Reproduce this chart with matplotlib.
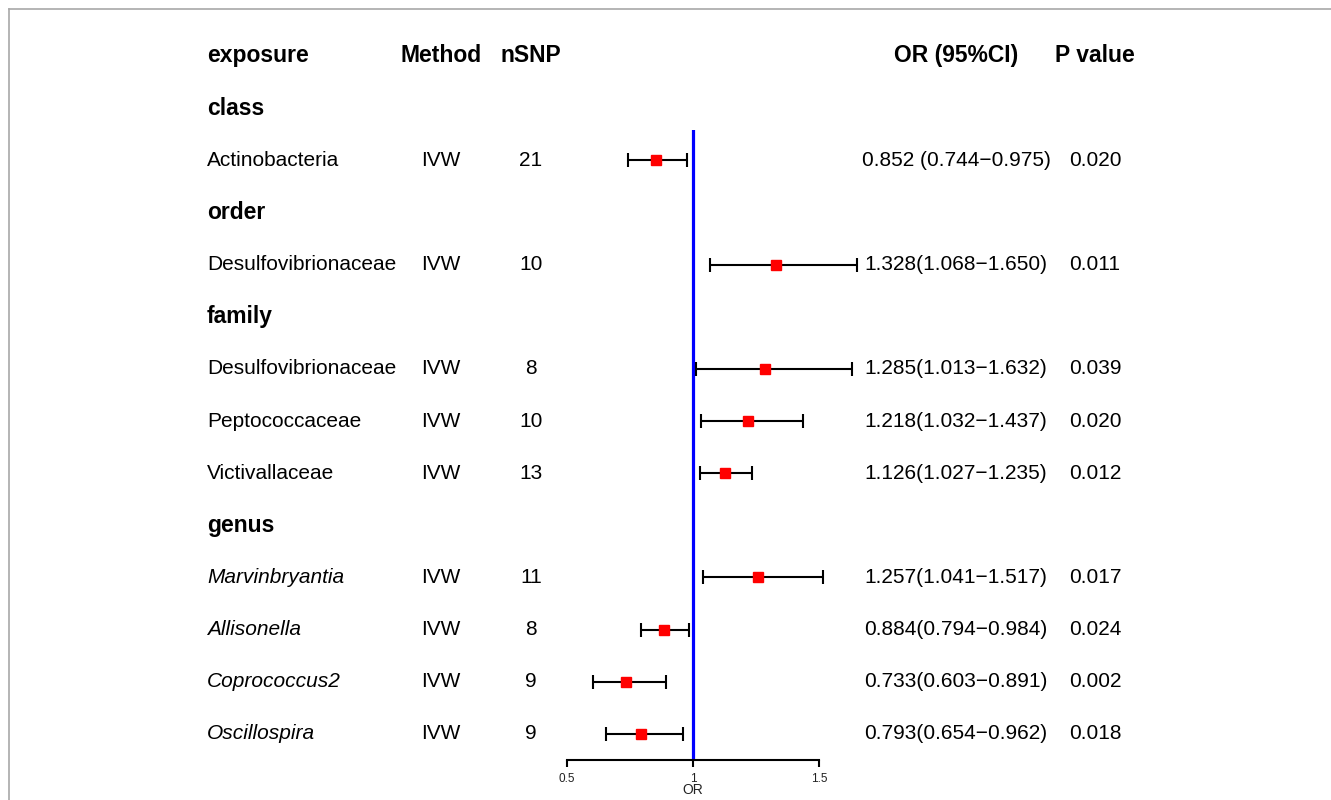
import matplotlib.pyplot as plt
import matplotlib.transforms as mtransforms
from matplotlib.lines import Line2D

plt.rcParams['font.family'] = ['Liberation Sans', 'DejaVu Sans']

groups = ['class', 'order', 'family', 'genus']
exposure = [
    ['Actinobacteria'],
    ['Desulfovibrionaceae'],
    ['Desulfovibrionaceae', 'Peptococcaceae', 'Victivallaceae'],
    ['Marvinbryantia', 'Allisonella', 'Coprococcus2', 'Oscillospira'],
]
italic_groups = ['genus']
method = 'IVW'
nsnp = [[21], [10], [8, 10, 13], [11, 8, 9, 9]]
or_est = [[0.852], [1.328], [1.285, 1.218, 1.126], [1.257, 0.884, 0.733, 0.793]]
or_lo = [[0.744], [1.068], [1.013, 1.032, 1.027], [1.041, 0.794, 0.603, 0.654]]
or_hi = [[0.975], [1.650], [1.632, 1.437, 1.235], [1.517, 0.984, 0.891, 0.962]]
pvals = [['0.020'], ['0.011'], ['0.039', '0.020', '0.012'],
         ['0.017', '0.024', '0.002', '0.018']]
or_text = [['0.852 (0.744\u22120.975)'], ['1.328(1.068\u22121.650)'],
           ['1.285(1.013\u22121.632)', '1.218(1.032\u22121.437)', '1.126(1.027\u22121.235)'],
           ['1.257(1.041\u22121.517)', '0.884(0.794\u22120.984)',
            '0.733(0.603\u22120.891)', '0.793(0.654\u22120.962)']]
headers = ['exposure', 'Method', 'nSNP', 'OR (95%CI)', 'P value']
xticks = [0.5, 1, 1.5]

W, H = 1331, 800
fig = plt.figure(figsize=(W / 100, H / 100), dpi=100)

# frame lines at top and left
fig.add_artist(Line2D([9 / W, 1], [1 - 9 / H, 1 - 9 / H], color='#a8a8a8', lw=1.2))
fig.add_artist(Line2D([9 / W, 9 / W], [0, 1 - 9 / H], color='#a8a8a8', lw=1.2))

ax = fig.add_axes([567 / W, 40 / H, 252 / W, 630 / H])
ax.set_xlim(0.5, 1.5)
ax.set_ylim(13.5, 1.42)
for s in ['top', 'right', 'left']:
    ax.spines[s].set_visible(False)
ax.spines['bottom'].set_linewidth(1.5)
ax.set_yticks([])
ax.set_xticks(xticks)
ax.set_xticklabels(['0.5', '1', '1.5'], fontsize=8.5, color='#222222')
ax.tick_params(axis='x', direction='out', length=5, width=1.5, pad=4)
ax.set_xlabel('OR', fontsize=10, labelpad=-1, color='#222222')
ax.axvline(1, color='#0000ff', lw=2.3, zorder=1)

tr = mtransforms.blended_transform_factory(fig.transFigure, ax.transData)
col_x = [207, 441, 531, 956, 1095]

# header row
fig.text(col_x[0] / W, 0, headers[0], transform=tr, ha='left', va='center',
         fontsize=16.5, fontweight='bold')
for x, h in zip(col_x[1:], headers[1:]):
    fig.text(x / W, 0, h, transform=tr, ha='center', va='center',
             fontsize=16.5, fontweight='bold')

row = 1
for gi, g in enumerate(groups):
    fig.text(col_x[0] / W, row, g, transform=tr, ha='left', va='center',
             fontsize=16.5, fontweight='bold')
    row += 1
    style = 'italic' if g in italic_groups else 'normal'
    for j, name in enumerate(exposure[gi]):
        fig.text(col_x[0] / W, row, name, transform=tr, ha='left', va='center',
                 fontsize=15, style=style)
        fig.text(col_x[1] / W, row, method, transform=tr, ha='center', va='center', fontsize=15)
        fig.text(col_x[2] / W, row, str(nsnp[gi][j]), transform=tr, ha='center',
                 va='center', fontsize=15)
        fig.text(col_x[3] / W, row, or_text[gi][j], transform=tr, ha='center',
                 va='center', fontsize=15)
        fig.text(col_x[4] / W, row, pvals[gi][j], transform=tr, ha='center',
                 va='center', fontsize=15)
        est = or_est[gi][j]
        ax.errorbar(est, row, xerr=[[est - or_lo[gi][j]], [or_hi[gi][j] - est]],
                    fmt='none', ecolor='black', elinewidth=1.5, capsize=4.7,
                    capthick=1.5, clip_on=False, zorder=2)
        ax.plot(est, row, marker='s', color='#ff0000', markersize=6.8,
                linestyle='none', clip_on=False, zorder=3)
        row += 1

fig.savefig('out.png', dpi=100)
